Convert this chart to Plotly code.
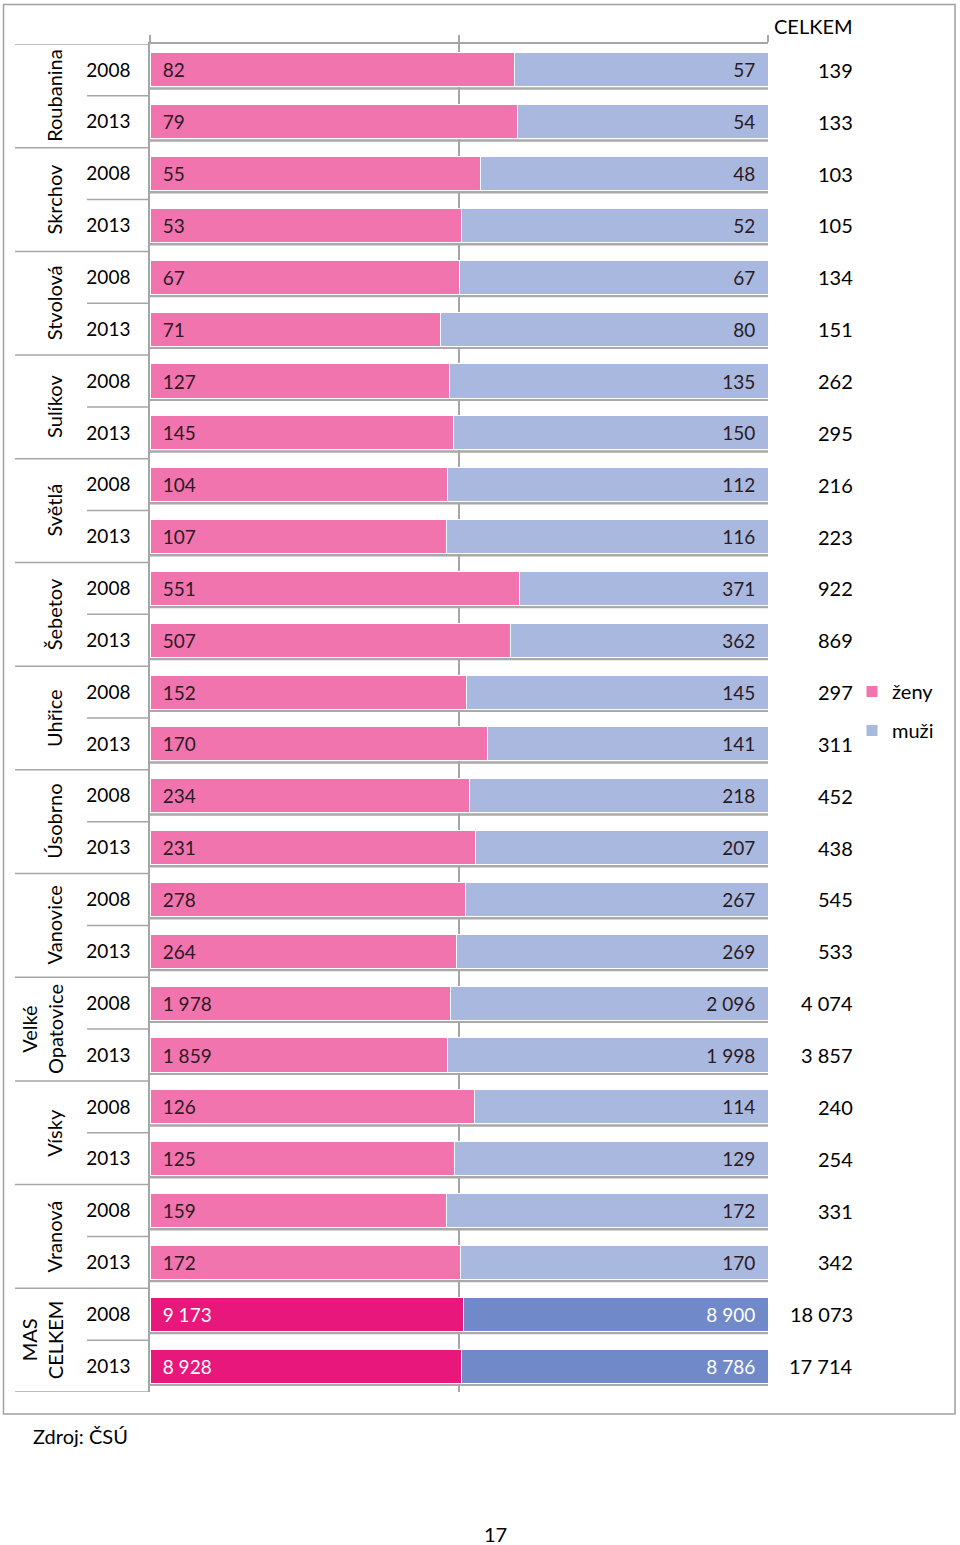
import plotly.graph_objects as go

# ---------------- data ----------------
names = ["Roubanina", "Skrchov", "Stvolová", "Sulíkov", "Světlá", "Šebetov", "Uhřice",
         "Úsobrno", "Vanovice", "Velké<br>Opatovice", "Vísky", "Vranová", "MAS<br>CELKEM"]
years = ["2008", "2013"]
zeny = [82, 79, 55, 53, 67, 71, 127, 145, 104, 107, 551, 507, 152, 170, 234, 231,
        278, 264, 1978, 1859, 126, 125, 159, 172, 9173, 8928]
muzi = [57, 54, 48, 52, 67, 80, 135, 150, 112, 116, 371, 362, 145, 141, 218, 207,
        267, 269, 2096, 1998, 114, 129, 172, 170, 8900, 8786]
celkem = [z + m for z, m in zip(zeny, muzi)]

# ---------------- layout constants (pixel coords) ----------------
W, H = 960, 1545
L, R, T, B = 150, 768, 44, 1392
PW, PH = R - L, B - T
FONT = "Lato, Carlito, Calibri, sans-serif"
GRAY = "#A6A6A6"

def px_x(px):
    return (px - L) / PW

def px_y(py):
    return 1 - (py - T) / PH

n = len(zeny)
rows = list(range(n))
ylabels = [years[i % 2] for i in rows]
is_total = [i >= n - 2 for i in rows]

c_z = ["#E8177C" if t else "#F274AE" for t in is_total]
c_m = ["#7089C9" if t else "#A9B8DF" for t in is_total]
tc = ["white" if t else "#2B1A24" for t in is_total]

fig = go.Figure()
fig.add_trace(go.Bar(
    y=rows, x=zeny, orientation="h", name="ženy", legendgroup="z",
    customdata=zeny, texttemplate="\u00a0\u00a0%{customdata:,}",
    textposition="inside", insidetextanchor="start", textangle=0,
    insidetextfont=dict(family=FONT, size=19, color=tc),
    marker=dict(color=c_z, line=dict(color="white", width=1)),
    hoverinfo="skip",
))
fig.add_trace(go.Bar(
    y=rows, x=muzi, orientation="h", name="muži", legendgroup="m",
    customdata=muzi, texttemplate="%{customdata:,}\u00a0\u00a0",
    textposition="inside", insidetextanchor="end", textangle=0,
    insidetextfont=dict(family=FONT, size=19, color=tc),
    marker=dict(color=c_m, line=dict(color="white", width=1)),
    hoverinfo="skip",
))

shapes = []
# bar shadows
for i in rows:
    shapes.append(dict(type="line", xref="paper", yref="y", x0=0, x1=1,
                       y0=i + 0.36, y1=i + 0.36, layer="between",
                       line=dict(color="rgba(140,140,140,0.75)", width=2.5)))
# left table separators
for k in range(0, n + 1, 2):
    shapes.append(dict(type="line", xref="paper", yref="y", x0=px_x(15), x1=0,
                       y0=k - 0.5, y1=k - 0.5, line=dict(color=GRAY, width=1.5)))
for k in range(1, n, 2):
    shapes.append(dict(type="line", xref="paper", yref="y", x0=px_x(87), x1=0,
                       y0=k - 0.5, y1=k - 0.5, line=dict(color=GRAY, width=1.5)))
# outer border
shapes.append(dict(type="rect", xref="paper", yref="paper",
                   x0=px_x(3.5), x1=px_x(955), y0=px_y(1414), y1=px_y(4.5),
                   line=dict(color="#A0A0A0", width=1.5)))

annotations = []
for g, nm in enumerate(names):
    two = "<br>" in nm
    annotations.append(dict(xref="paper", yref="y", x=px_x(42 if two else 54), y=2 * g + 0.5,
                            text=nm, textangle=-90, showarrow=False,
                            xanchor="center", yanchor="middle",
                            font=dict(family=FONT, size=20, color="black")))
for i, t in enumerate(celkem):
    annotations.append(dict(xref="paper", yref="y", x=px_x(855), y=i,
                            text=f"{t:,}".replace(",", " "), showarrow=False,
                            xanchor="right", yanchor="middle",
                            font=dict(family=FONT, size=20, color="black")))
annotations.append(dict(xref="paper", yref="paper", x=px_x(855), y=px_y(26),
                        text="CELKEM", showarrow=False, xanchor="right", yanchor="middle",
                        font=dict(family=FONT, size=20, color="black")))
annotations.append(dict(xref="paper", yref="paper", x=px_x(31), y=px_y(1436),
                        text="Zdroj: ČSÚ", showarrow=False, xanchor="left", yanchor="middle",
                        font=dict(family=FONT, size=20, color="black")))
annotations.append(dict(xref="paper", yref="paper", x=px_x(495), y=px_y(1534),
                        text="17", showarrow=False, xanchor="center", yanchor="middle",
                        font=dict(family=FONT, size=20, color="black")))

fig.update_layout(
    width=W, height=H,
    margin=dict(l=L, r=W - R, t=T, b=H - B, pad=0),
    paper_bgcolor="white", plot_bgcolor="white",
    barmode="stack", barnorm="percent", bargap=0.344,
    separators=", ",
    font=dict(family=FONT, size=19, color="black"),
    xaxis=dict(side="top", range=[0, 100], tickvals=[0, 50, 100], showticklabels=False,
               ticks="outside", ticklen=7, tickcolor=GRAY, tickwidth=1.5,
               showgrid=True, gridcolor=GRAY, gridwidth=1.5, zeroline=False,
               showline=True, linecolor=GRAY, linewidth=1.5, fixedrange=True),
    yaxis=dict(range=[n - 0.5, -0.5], tickvals=rows, ticktext=ylabels,
               tickfont=dict(family=FONT, size=19, color="black"), ticks="",
               ticklabelstandoff=14, showgrid=False, zeroline=False,
               showline=True, linecolor=GRAY, linewidth=1.5, fixedrange=True),
    legend=dict(x=px_x(852), y=px_y(672), xanchor="left", yanchor="top",
                bgcolor="rgba(0,0,0,0)", traceorder="grouped", tracegroupgap=10,
                font=dict(family=FONT, size=20, color="black"), itemwidth=30),
    shapes=shapes, annotations=annotations,
)

fig.write_html("out.html", config={"displayModeBar": False},
               post_script="document.body.style.margin='0';")
